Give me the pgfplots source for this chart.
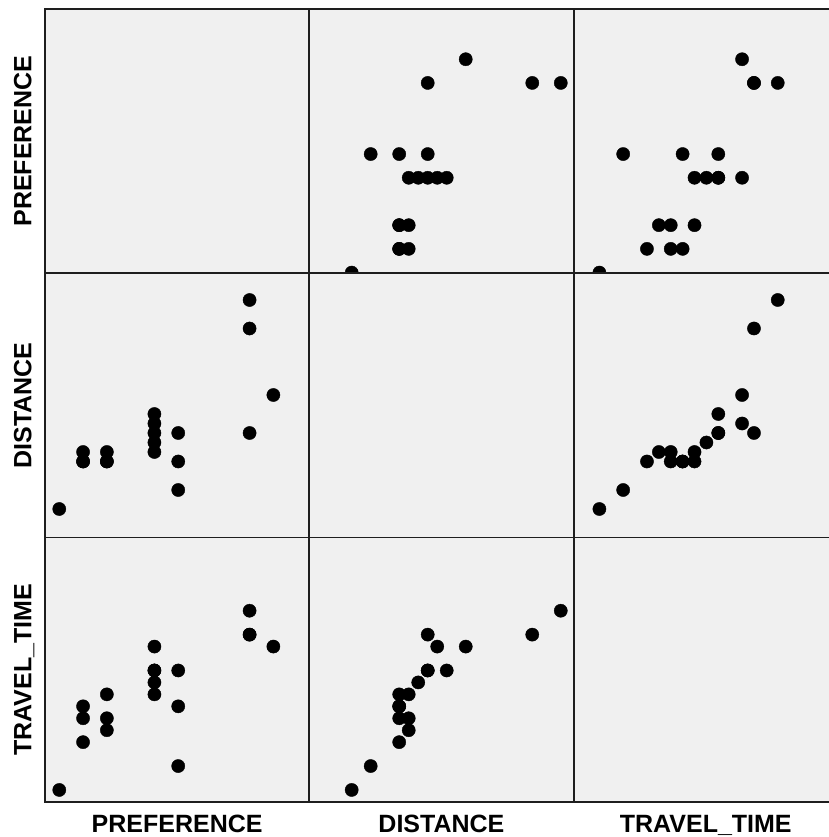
\documentclass[border=0pt]{standalone}
\usepackage{pgfplots}
\pgfplotsset{compat=1.18}
\usepackage{pgfplotstable}
\usepackage{fontspec}
\setmainfont{Liberation Sans}

\definecolor{panelbg}{HTML}{F0F0F0}
\definecolor{framecol}{HTML}{1E1E1E}

% one row per respondent: preference, distance, travel time
\pgfplotstableread{
P D T
0 0 0
5 2 2
1 5 4
2 6 5
4 7 9
8 8 13
4 9 12
4 10 10
9 12 12
8 19 13
8 22 15
5 8 10
5 5 7
2 5 8
4 6 8
1 6 6
2 5 6
1 5 7
4 8 10
}\survey

\pgfplotsset{
  spm/.style={
    width=264.3pt, height=264.3pt, scale only axis, anchor=south west,
    xtick=\empty, ytick=\empty,
    axis background/.style={fill=panelbg},
    axis line style={draw=framecol, line width=1.8pt},
    clip marker paths=true,
  },
  dots/.style={only marks, mark=*, mark size=6.6pt, draw=black, fill=black},
  pref x/.style={xmin=-0.60, xmax=10.51},
  pref y/.style={ymin=-0.03, ymax=11.12},
  dist x/.style={xmin=-4.46, xmax=23.35},
  dist y/.style={ymin=-3.01, ymax=24.81},
  tt x/.style={xmin=-2.17, xmax=20.06},
  tt y/.style={ymin=-1.0, ymax=21.12},
  lab x/.style={xlabel={#1}, xlabel style={at={(axis description cs:0.5,-0.1158)}, anchor=base, font=\bfseries\fontsize{25}{30}\selectfont}},
  lab y/.style={ylabel={#1}, ylabel style={at={(axis description cs:-0.0518,0.5)}, rotate=0, anchor=base, font=\bfseries\fontsize{25}{30}\selectfont}},
}

\begin{document}
\begin{tikzpicture}
  % row 1: PREFERENCE
  \begin{axis}[spm, at={(45pt,563.7pt)}, pref x, pref y, lab y=PREFERENCE]
  \end{axis}
  \begin{axis}[spm, at={(309.3pt,563.7pt)}, dist x, pref y]
    \addplot[dots] table[x=D, y=P] {\survey};
  \end{axis}
  \begin{axis}[spm, at={(573.6pt,563.7pt)}, tt x, pref y]
    \addplot[dots] table[x=T, y=P] {\survey};
  \end{axis}
  % row 2: DISTANCE
  \begin{axis}[spm, at={(45pt,299.4pt)}, pref x, dist y, lab y=DISTANCE]
    \addplot[dots] table[x=P, y=D] {\survey};
  \end{axis}
  \begin{axis}[spm, at={(309.3pt,299.4pt)}, dist x, dist y]
  \end{axis}
  \begin{axis}[spm, at={(573.6pt,299.4pt)}, tt x, dist y]
    \addplot[dots] table[x=T, y=D] {\survey};
  \end{axis}
  % row 3: TRAVEL_TIME
  \begin{axis}[spm, at={(45pt,35.1pt)}, pref x, tt y, lab y=TRAVEL\_TIME, lab x=PREFERENCE]
    \addplot[dots] table[x=P, y=T] {\survey};
  \end{axis}
  \begin{axis}[spm, at={(309.3pt,35.1pt)}, dist x, tt y, lab x=DISTANCE]
    \addplot[dots] table[x=D, y=T] {\survey};
  \end{axis}
  \begin{axis}[spm, at={(573.6pt,35.1pt)}, tt x, tt y, lab x=TRAVEL\_TIME]
  \end{axis}
  \pgfresetboundingbox
  \useasboundingbox (0pt,0pt) rectangle (828pt,837pt);
\end{tikzpicture}
\end{document}
